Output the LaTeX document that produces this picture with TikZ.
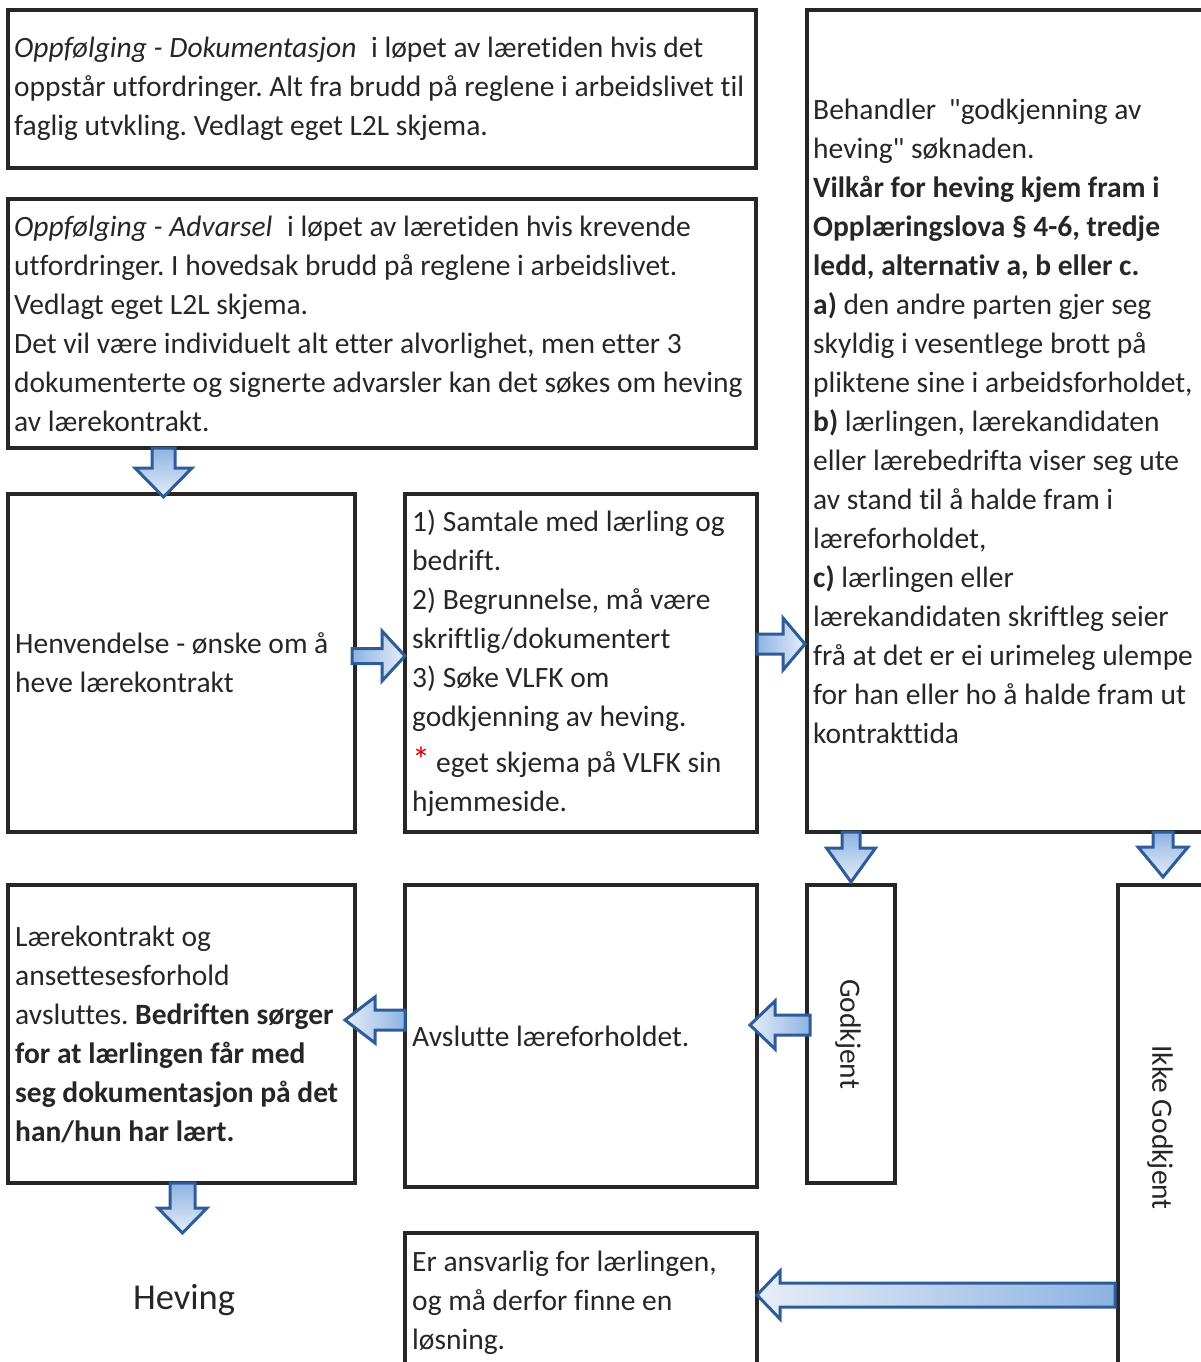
\documentclass[tikz,border=0pt]{standalone}
\usepackage{fontspec}
\setmainfont{Carlito}[RawFeature={-liga;-calt;-dlig}]
\newfontfamily\rawq{Carlito}[Ligatures=TeXOff]
\usetikzlibrary{calc}
\frenchspacing
\definecolor{bline}{HTML}{2E5C99}
\definecolor{bdark}{HTML}{8DB3E2}
\definecolor{blight}{HTML}{E6EEF8}
\definecolor{boxline}{HTML}{262626}
\newcommand\arrR[5]{\path[barrow,left color=bdark,right color=blight] let \p1=#1,\p2=#2 in (\x1,\y1+#3) -- (\x2-#5,\y1+#3) -- (\x2-#5,\y1+#4) -- (\x2,\y1) -- (\x2-#5,\y1-#4) -- (\x2-#5,\y1-#3) -- (\x1,\y1-#3) -- cycle;}
\newcommand\arrL[5]{\path[barrow,left color=blight,right color=bdark] let \p1=#1,\p2=#2 in (\x1,\y1+#3) -- (\x2+#5,\y1+#3) -- (\x2+#5,\y1+#4) -- (\x2,\y1) -- (\x2+#5,\y1-#4) -- (\x2+#5,\y1-#3) -- (\x1,\y1-#3) -- cycle;}
\newcommand\arrD[5]{\path[barrow,top color=bdark,bottom color=blight] let \p1=#1,\p2=#2 in (\x1+#3,\y1) -- (\x1+#3,\y2+#5) -- (\x1+#4,\y2+#5) -- (\x1,\y2) -- (\x1-#4,\y2+#5) -- (\x1-#3,\y2+#5) -- (\x1-#3,\y1) -- cycle;}
\begin{document}
\begin{tikzpicture}[x=1pt,y=-1pt,
  box/.style={draw=boxline, line width=3.5pt, inner sep=0pt, outer sep=0pt, anchor=north west},
  txt/.style={anchor=west, inner sep=0pt, align=left, text=black!85, font=\fontsize{29.5}{39}\selectfont},
  barrow/.style={draw=bline, line width=3pt, line join=miter}]
\useasboundingbox (0,0) rectangle (1200,1362);
% boxes
\node[box, minimum width=748pt, minimum height=158pt] (b1) at (8,10) {};
\node[box, minimum width=748pt, minimum height=249pt] (b2) at (8,199) {};
\node[box, minimum width=410pt, minimum height=822pt] (rb) at (807,10) {};
\node[box, minimum width=347pt, minimum height=338pt] (hen) at (8,494) {};
\node[box, minimum width=352pt, minimum height=338pt] (steps) at (405,494) {};
\node[box, minimum width=347pt, minimum height=298pt] (lk) at (8,885) {};
\node[box, minimum width=352pt, minimum height=302pt] (av) at (405,885) {};
\node[box, minimum width=88pt, minimum height=298pt] (gkbox) at (807,885) {};
\node[box, minimum width=100pt, minimum height=485pt] (ikbox) at (1118,885) {};
\node[box, minimum width=352pt, minimum height=140pt] (er) at (405,1233) {};
% texts
\node[txt] (t1) at ([xshift=6pt]b1.west) {\textit{Oppfølging - Dokumentasjon}\hspace{8pt} i løpet av læretiden hvis det\\oppstår utfordringer. Alt fra brudd på reglene i arbeidslivet til\\faglig utvkling. Vedlagt eget L2L skjema.};
\node[txt] (t2) at ([xshift=6pt]b2.west) {\textit{Oppfølging - Advarsel}\hspace{8pt} i løpet av læretiden hvis krevende\\utfordringer. I hovedsak brudd på reglene i arbeidslivet.\\Vedlagt eget L2L skjema.\\Det vil være individuelt alt etter alvorlighet, men etter 3\\dokumenterte og signerte advarsler kan det søkes om heving\\av lærekontrakt.};
\node[txt] (trb) at ([xshift=6pt]rb.west) {Behandler\hspace{6pt} {\rawq"}godkjenning av\\heving{\rawq"} søknaden.\\\textbf{Vilkår for heving kjem fram i}\\\textbf{Opplæringslova § 4-6, tredje}\\\textbf{ledd, alternativ a, b eller c.}\\\textbf{a)} den andre parten gjer seg\\skyldig i vesentlege brott på\\pliktene sine i arbeidsforholdet,\\\textbf{b)} lærlingen, lærekandidaten\\eller lærebedrifta viser seg ute\\av stand til å halde fram i\\læreforholdet,\\\textbf{c)} lærlingen eller\\lærekandidaten skriftleg seier\\frå at det er ei urimeleg ulempe\\for han eller ho å halde fram ut\\kontrakttida};
\node[txt] (then) at ([xshift=7pt]hen.west) {Henvendelse - ønske om å\\heve lærekontrakt};
\node[txt] (tsteps) at ([xshift=7pt]steps.west) {1) Samtale med lærling og\\bedrift.\\2) Begrunnelse, må være\\skriftlig/dokumentert\\3) Søke VLFK om\\godkjenning av heving.\\[7pt]{\fontsize{36}{39}\selectfont\color{red!85!black}*}\hspace{6pt}eget skjema på VLFK sin\\hjemmeside.};
\node[txt] (tlk) at ([xshift=7pt]lk.west) {Lærekontrakt og\\ansettesesforhold\\avsluttes. \textbf{Bedriften sørger}\\\textbf{for at lærlingen får med}\\\textbf{seg dokumentasjon på det}\\\textbf{han/hun har lært.}};
\node[txt] (tav) at ([xshift=7pt]av.west) {Avslutte læreforholdet.};
\node[txt, anchor=center, rotate=-90] (tgk) at ([xshift=-3pt]gkbox.center) {Godkjent};
\node[txt, anchor=center, rotate=-90] (tik) at ([xshift=-8pt]ikbox.center) {Ikke Godkjent};
\node[txt] (ter) at ([xshift=7pt]er.west) {Er ansvarlig for lærlingen,\\og må derfor finne en\\løsning.};
\node[inner sep=0pt, text=black!85, font=\fontsize{36.5}{42}\selectfont] (hev) at (184,1300) {Heving};
% arrows
\arrD{($(b2.south west)+(155.5,0)$)}{($(hen.north west)+(155.5,3)$)}{11.5pt}{28.5pt}{29pt}
\arrR{($(hen.east)+(-3,-7)$)}{($(steps.west)+(0,-7)$)}{7.5pt}{25pt}{23pt}
\arrR{($(steps.east)+(0,-19)$)}{($(rb.west)+(-2,0)$)}{10pt}{26pt}{22pt}
\arrD{($(rb.south west)+(44,0)$)}{($(gkbox.north west)+(44,-3)$)}{9pt}{24.5pt}{34pt}
\arrD{($(rb.south west)+(356,0)$)}{($(ikbox.north west)+(45,-8)$)}{10pt}{25pt}{30pt}
\arrL{($(gkbox.west)+(3,-9)$)}{($(av.east)+(-7,0)$)}{10pt}{24pt}{25pt}
\arrL{($(av.west)+(0,-16)$)}{($(lk.east)+(-10,0)$)}{10pt}{23pt}{30pt}
\arrD{($(lk.south west)+(174.5,0)$)}{($(lk.south west)+(174.5,50)$)}{12.5pt}{24.5pt}{25pt}
\arrL{($(ikbox.west)+(-3,167.5)$)}{(er.east)}{12pt}{24pt}{23pt}
\end{tikzpicture}
\end{document}
